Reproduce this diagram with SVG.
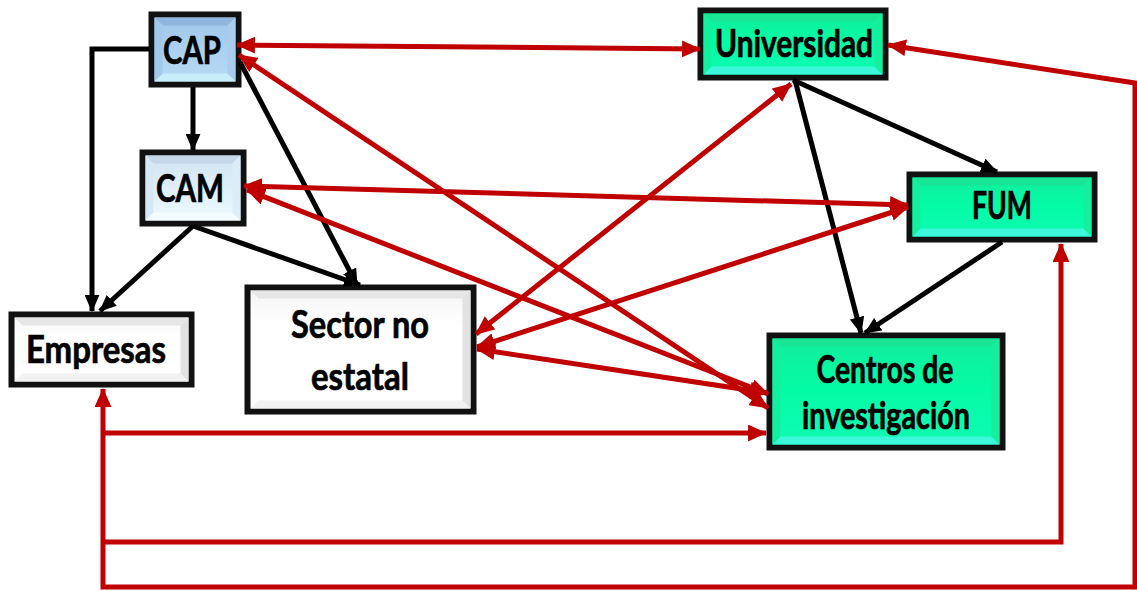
<svg xmlns="http://www.w3.org/2000/svg" width="1137" height="591" viewBox="0 0 1137 591">
<style>
.box{stroke:#111;stroke-width:6}
.lbl{font-family:Lato,"Liberation Sans",sans-serif;font-weight:700;font-size:38px;fill:#000;stroke:#000;stroke-width:0.7;text-anchor:middle}
.blk{fill:none;stroke:#000;stroke-width:5;marker-end:url(#ak)}
.red{fill:none;stroke:#c00000;stroke-width:5}
.bi{marker-start:url(#ar);marker-end:url(#ar)}
.end{marker-end:url(#ar)}
.st{marker-start:url(#ar)}
</style>
<defs>
<marker id="ak" viewBox="0 0 16 14" refX="15" refY="7" markerWidth="17" markerHeight="15" markerUnits="userSpaceOnUse" orient="auto-start-reverse"><path d="M0,0 L16,7 L0,14 Z" fill="#000"/></marker>
<marker id="ar" viewBox="0 0 18 16" refX="17" refY="8" markerWidth="19" markerHeight="17" markerUnits="userSpaceOnUse" orient="auto-start-reverse"><path d="M0,0 L18,8 L0,16 Z" fill="#c00000"/></marker>
<linearGradient id="gGreen" x1="0" y1="0" x2="0" y2="1"><stop offset="0" stop-color="#12ec9c"/><stop offset="0.5" stop-color="#04fca6"/><stop offset="1" stop-color="#10fbb4"/></linearGradient>
<linearGradient id="gCap" x1="0" y1="0" x2="0" y2="1"><stop offset="0" stop-color="#9fc6ea"/><stop offset="1" stop-color="#b8dcf6"/></linearGradient>
<linearGradient id="gCam" x1="0" y1="0" x2="0" y2="1"><stop offset="0" stop-color="#d0e3f2"/><stop offset="1" stop-color="#eefaff"/></linearGradient>
<linearGradient id="gWhite" x1="0" y1="0" x2="0" y2="1"><stop offset="0" stop-color="#f4f4f4"/><stop offset="0.3" stop-color="#ffffff"/><stop offset="1" stop-color="#ffffff"/></linearGradient>
</defs>

<g id="node-cap">
<rect class="box" x="151.5" y="14.5" width="87" height="70" fill="url(#gCap)"/>
<polygon points="154.5,17.5 235.5,17.5 227.5,25.5 162.5,25.5" fill="#8fb6dc"/>
<polygon points="154.5,81.5 235.5,81.5 227.5,73.5 162.5,73.5" fill="#c8eefc"/>
<polygon points="235.5,17.5 235.5,81.5 227.5,73.5 227.5,25.5" fill="#a8cdee"/>
<polygon points="154.5,17.5 154.5,81.5 162.5,73.5 162.5,25.5" fill="#a2c8ea"/>
<text class="lbl" x="192" y="64" textLength="58" lengthAdjust="spacingAndGlyphs">CAP</text>
</g>

<g id="node-cam">
<rect class="box" x="142.5" y="152.5" width="101" height="71" fill="url(#gCam)"/>
<polygon points="145.5,155.5 240.5,155.5 232.5,163.5 153.5,163.5" fill="#c4d8ea"/>
<polygon points="145.5,220.5 240.5,220.5 232.5,212.5 153.5,212.5" fill="#f3fcff"/>
<polygon points="240.5,155.5 240.5,220.5 232.5,212.5 232.5,163.5" fill="#dcedf8"/>
<polygon points="145.5,155.5 145.5,220.5 153.5,212.5 153.5,163.5" fill="#d6e8f5"/>
<text class="lbl" x="190" y="202" textLength="68" lengthAdjust="spacingAndGlyphs">CAM</text>
</g>

<g id="node-empresas">
<rect class="box" x="11.5" y="314.5" width="180" height="70" fill="url(#gWhite)"/>
<polygon points="14.5,317.5 188.5,317.5 180.5,325.5 22.5,325.5" fill="#e6e6e6"/>
<polygon points="14.5,381.5 188.5,381.5 180.5,373.5 22.5,373.5" fill="#f2f2f2"/>
<polygon points="188.5,317.5 188.5,381.5 180.5,373.5 180.5,325.5" fill="#e2e2e2"/>
<text class="lbl" x="96" y="363" textLength="140" lengthAdjust="spacingAndGlyphs">Empresas</text>
</g>

<g id="node-sector">
<rect class="box" x="247.5" y="287.5" width="226" height="124" fill="url(#gWhite)"/>
<polygon points="250.5,290.5 470.5,290.5 462.5,298.5 258.5,298.5" fill="#e6e6e6"/>
<polygon points="250.5,408.5 470.5,408.5 462.5,400.5 258.5,400.5" fill="#f2f2f2"/>
<polygon points="470.5,290.5 470.5,408.5 462.5,400.5 462.5,298.5" fill="#e2e2e2"/>
<text class="lbl" x="360" y="338" textLength="138" lengthAdjust="spacingAndGlyphs">Sector no</text>
<text class="lbl" x="360" y="390" textLength="98" lengthAdjust="spacingAndGlyphs">estatal</text>
</g>

<g id="node-universidad">
<rect class="box" x="700.5" y="10.5" width="185" height="67" fill="url(#gGreen)"/>
<polygon points="703.5,13.5 882.5,13.5 874.5,21.5 711.5,21.5" fill="#1ae596"/>
<polygon points="703.5,74.5 882.5,74.5 874.5,66.5 711.5,66.5" fill="#3cf8da"/>
<polygon points="882.5,13.5 882.5,74.5 874.5,66.5 874.5,21.5" fill="#14ee9e"/>
<polygon points="703.5,13.5 703.5,74.5 711.5,66.5 711.5,21.5" fill="#12f09f"/>
<text class="lbl" x="794" y="57" textLength="158" lengthAdjust="spacingAndGlyphs">Universidad</text>
</g>

<g id="node-fum">
<rect class="box" x="909.5" y="174.5" width="185" height="65" fill="url(#gGreen)"/>
<polygon points="912.5,177.5 1091.5,177.5 1083.5,185.5 920.5,185.5" fill="#1ae596"/>
<polygon points="912.5,236.5 1091.5,236.5 1083.5,228.5 920.5,228.5" fill="#3cf8da"/>
<polygon points="1091.5,177.5 1091.5,236.5 1083.5,228.5 1083.5,185.5" fill="#14ee9e"/>
<polygon points="912.5,177.5 912.5,236.5 920.5,228.5 920.5,185.5" fill="#12f09f"/>
<text class="lbl" x="1002" y="219" textLength="60" lengthAdjust="spacingAndGlyphs">FUM</text>
</g>

<g id="node-centros">
<rect class="box" x="769.5" y="335.5" width="233" height="112" fill="url(#gGreen)"/>
<polygon points="772.5,338.5 999.5,338.5 991.5,346.5 780.5,346.5" fill="#1ae596"/>
<polygon points="772.5,444.5 999.5,444.5 991.5,436.5 780.5,436.5" fill="#3cf8da"/>
<polygon points="999.5,338.5 999.5,444.5 991.5,436.5 991.5,346.5" fill="#14ee9e"/>
<polygon points="772.5,338.5 772.5,444.5 780.5,436.5 780.5,346.5" fill="#12f09f"/>
<text class="lbl" x="885" y="383" textLength="137" lengthAdjust="spacingAndGlyphs">Centros de</text>
<text class="lbl" x="886" y="429" textLength="168" lengthAdjust="spacingAndGlyphs">investigación</text>
</g>

<g id="connectors">
<path class="blk" d="M149,49 H92 V311"/>
<path class="blk" d="M193,87 V150"/>
<path class="blk" d="M240,62 L357,285"/>
<path class="blk" d="M193,226 L100,311"/>
<path class="blk" d="M193,226 L360,285"/>
<path class="blk" d="M793,80 L997,172"/>
<path class="blk" d="M795,80 L861,333"/>
<path class="blk" d="M1002,242 L865,333"/>

<path class="red bi" d="M237,45 L700,49"/>
<path class="red bi" d="M239,55 L768,408"/>
<path class="red bi" d="M244,186 L908,205"/>
<path class="red bi" d="M247,190 L768,394"/>
<path class="red bi" d="M476,334 L791,84"/>
<path class="red bi" d="M477,347 L908,207"/>
<path class="red bi" d="M477,349 L768,393"/>
<path class="red end" d="M103,433 H766"/>
<path class="red st" d="M1061,244 V542 H103"/>
<path class="red bi" d="M888,45 L1135,83 V587 H103 V389"/>
</g>
</svg>
